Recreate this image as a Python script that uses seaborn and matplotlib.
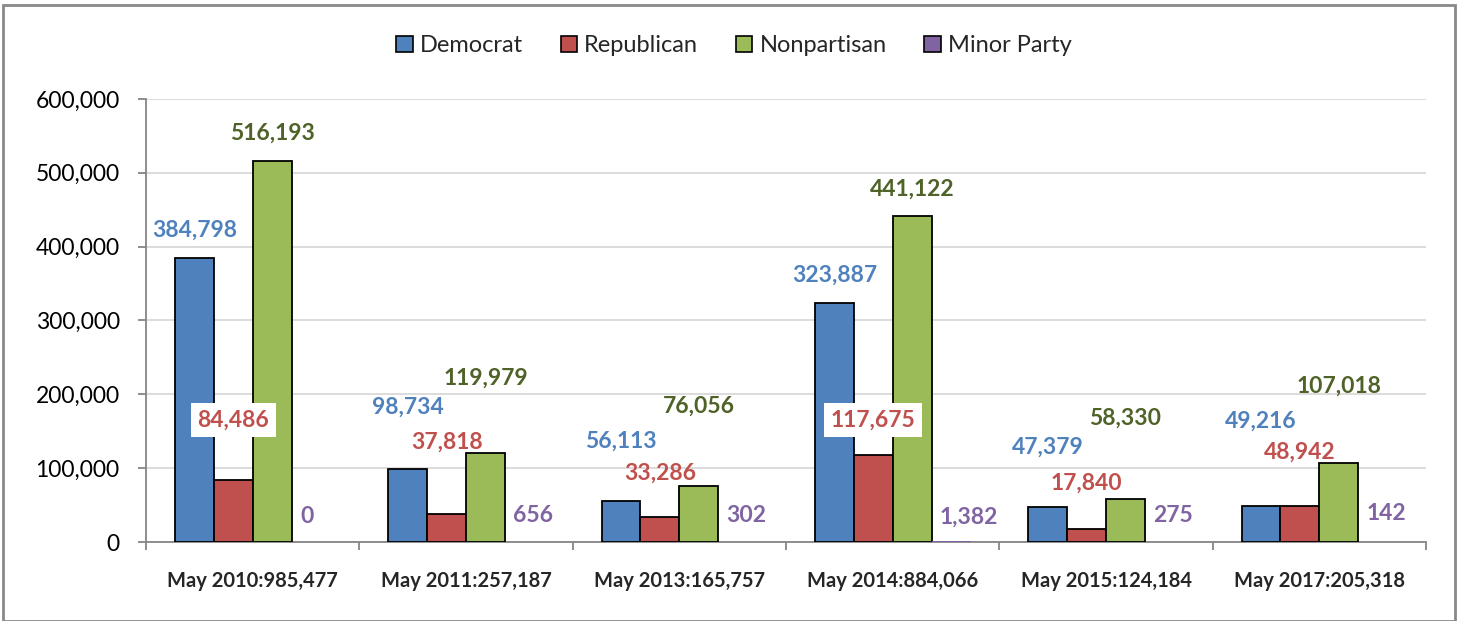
import numpy as np
import pandas as pd
import matplotlib
matplotlib.use("Agg")
import matplotlib.pyplot as plt
import matplotlib.ticker as mticker
from matplotlib.patches import Patch, Rectangle
import seaborn as sns

# %% Data
elections = ["May 2010:985,477", "May 2011:257,187", "May 2013:165,757",
             "May 2014:884,066", "May 2015:124,184", "May 2017:205,318"]
parties = ["Democrat", "Republican", "Nonpartisan", "Minor Party"]

democrat = [384798, 98734, 56113, 323887, 47379, 49216]
republican = [84486, 37818, 33286, 117675, 17840, 48942]
nonpartisan = [516193, 119979, 76056, 441122, 58330, 107018]
minor_party = [0, 656, 302, 1382, 275, 142]

# value labels were hand-placed in the original, heights in data units
label_y_dem = [422500, 182800, 136700, 361500, 128600, 163800]
label_y_rep = [165200, 135400, 93400, 165200, 79900, 121900]
label_y_non = [553800, 222000, 184100, 478000, 167900, 211200]
label_y_min = [35200, 36500, 36500, 33800, 36500, 39200]

bar_colors = ["#4F81BD", "#C0504D", "#9BBB59", "#8064A2"]
text_colors = ["#4F81BD", "#C0504D", "#4F6228", "#8064A2"]

df = pd.DataFrame({
    "election": elections,
    "Democrat": democrat,
    "Republican": republican,
    "Nonpartisan": nonpartisan,
    "Minor Party": minor_party,
})
long = df.melt(id_vars="election", var_name="party", value_name="voters")

# %% Plot
sns.set_theme(style="white")
plt.rcParams["font.family"] = ["Lato", "DejaVu Sans"]

fig, ax = plt.subplots(figsize=(14.62, 6.21), dpi=100)
fig.subplots_adjust(left=0.0999, right=0.9754, bottom=0.1272, top=0.8406)

sns.barplot(data=long, x="election", y="voters", hue="party",
            hue_order=parties, order=elections, palette=bar_colors,
            saturation=1, width=0.73, edgecolor="black", linewidth=1.3,
            legend=False, ax=ax, zorder=3)

# minor party bars are too small to show, hide their outlines too
for bar in ax.containers[3]:
    bar.set_linewidth(0)

ax.set_xlim(-0.5, len(elections) - 0.5)
ax.set_ylim(0, 600000)
ax.yaxis.set_major_locator(mticker.MultipleLocator(100000))
ax.yaxis.set_major_formatter(mticker.FuncFormatter(lambda v, p: f"{v:,.0f}"))
ax.yaxis.grid(True, color="#D9D9D9", linewidth=1.3)
ax.set_axisbelow(True)
ax.set_xlabel("")
ax.set_ylabel("")

for side in ["top", "right"]:
    ax.spines[side].set_visible(False)
for side in ["left", "bottom"]:
    ax.spines[side].set_color("#868686")
    ax.spines[side].set_linewidth(1.3)

ax.tick_params(axis="y", left=True, length=6, width=1.3, color="#868686",
               labelsize=16.5, pad=13, labelcolor="black")
ax.set_xticks(np.arange(-0.5, len(elections), 1), minor=True)
ax.tick_params(axis="x", which="minor", bottom=True, length=6, width=1.3,
               color="#868686")
ax.tick_params(axis="x", which="major", bottom=False, labelsize=14.5, pad=15)
for lbl in ax.get_xticklabels():
    lbl.set_fontweight("bold")

# value labels
all_label_y = [label_y_dem, label_y_rep, label_y_non, label_y_min]
all_values = [democrat, republican, nonpartisan, minor_party]
for k, cont in enumerate(ax.containers):
    for i, bar in enumerate(cont):
        val = all_values[k][i]
        ly = all_label_y[k][i]
        if k == 3:
            ax.annotate(f"{val:,}", xy=(bar.get_x(), ly), xytext=(6, 0),
                        textcoords="offset points", ha="left", va="center",
                        fontsize=16.5, fontweight="bold", color=text_colors[k])
            continue
        # label sitting over a taller neighbour gets a white box
        box = None
        if k == 1 and ly < max(democrat[i], nonpartisan[i]):
            box = dict(facecolor="white", edgecolor="none", pad=5)
        ax.text(bar.get_x() + bar.get_width() / 2, ly, f"{val:,}",
                ha="center", va="center", fontsize=16.5, fontweight="bold",
                color=text_colors[k], bbox=box, zorder=5)

handles = [Patch(facecolor=c, edgecolor="black", linewidth=1.2) for c in bar_colors]
fig.legend(handles, parties, loc="center", bbox_to_anchor=(0.502, 0.926),
           ncol=4, frameon=False, fontsize=17, handlelength=0.7,
           handleheight=0.7, handletextpad=0.3, columnspacing=1.6)

# grey frame around the whole chart
fig.patches.append(Rectangle((0.002, 0.0), 0.993, 0.992, transform=fig.transFigure,
                             fill=False, edgecolor="#898989", linewidth=2))

plt.savefig("out.png", dpi=100)
